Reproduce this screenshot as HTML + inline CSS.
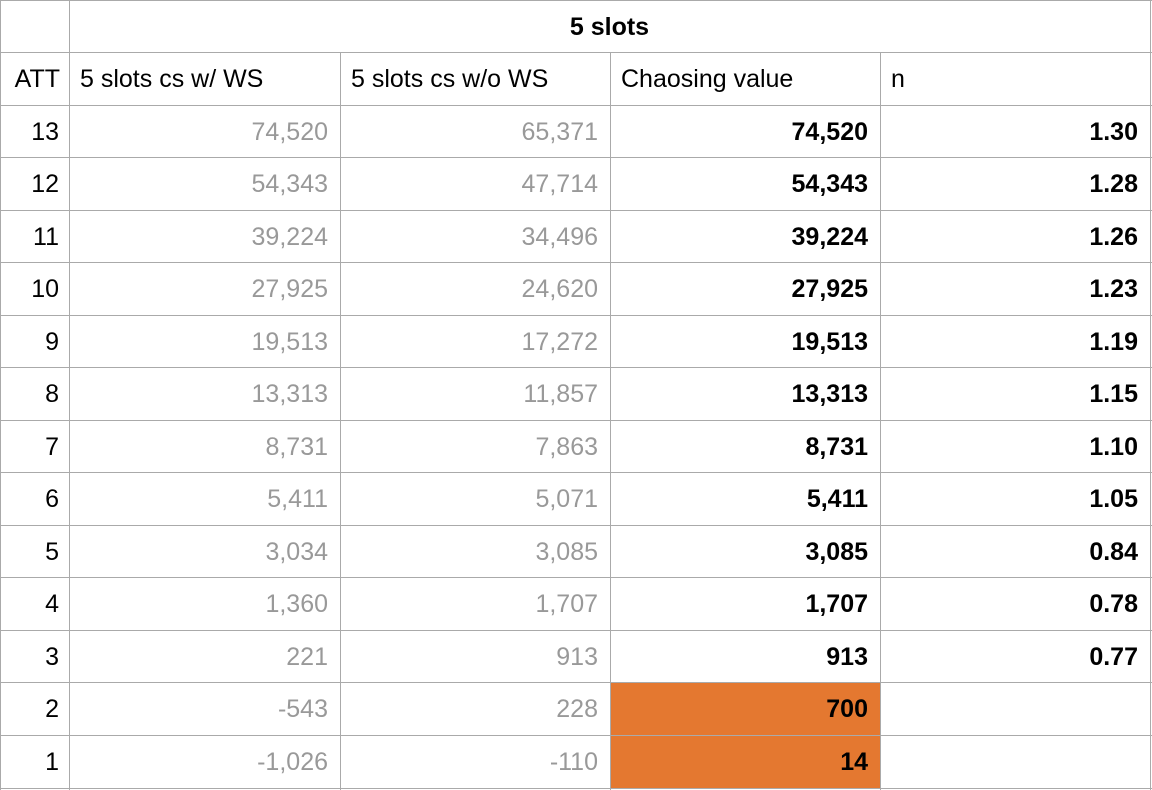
<!DOCTYPE html>
<html><head><meta charset="utf-8"><style>
body{margin:0;width:1152px;height:790px;overflow:hidden;background:#fff;font-family:"Liberation Sans",sans-serif;position:relative}
.c{position:absolute;height:52px;line-height:54px;font-size:25px;color:#000;box-sizing:border-box;white-space:nowrap}
.r{text-align:right;padding-right:12px}
.l{padding-left:11px}
.g{color:#999}
.b{font-weight:bold}
.o{background:#e47830}
.h{position:absolute;left:0;width:1152px;height:1px;background:#aaa}
.v{position:absolute;top:0;width:1px;height:790px;background:#aaa}
</style></head><body>
<div class="c o" style="left:610px;top:683px;width:270px;height:105px"></div>
<div class="c b" style="left:69px;top:0;width:1081px;text-align:center">5 slots</div>
<div class="c r" style="left:0;top:52px;width:69px;padding-right:9px">ATT</div>
<div class="c l" style="left:69px;top:52px;width:271px">5 slots cs w/ WS</div>
<div class="c l" style="left:340px;top:52px;width:270px">5 slots cs w/o WS</div>
<div class="c l" style="left:610px;top:52px;width:270px">Chaosing value</div>
<div class="c l" style="left:880px;top:52px;width:270px">n</div>

<div class="c r" style="left:0;top:105px;width:69px;padding-right:10px">13</div><div class="c r g" style="left:69px;top:105px;width:271px">74,520</div><div class="c r g" style="left:340px;top:105px;width:270px">65,371</div><div class="c r b" style="left:610px;top:105px;width:270px">74,520</div><div class="c r b" style="left:880px;top:105px;width:270px">1.30</div>
<div class="c r" style="left:0;top:157px;width:69px;padding-right:10px">12</div><div class="c r g" style="left:69px;top:157px;width:271px">54,343</div><div class="c r g" style="left:340px;top:157px;width:270px">47,714</div><div class="c r b" style="left:610px;top:157px;width:270px">54,343</div><div class="c r b" style="left:880px;top:157px;width:270px">1.28</div>
<div class="c r" style="left:0;top:210px;width:69px;padding-right:10px">11</div><div class="c r g" style="left:69px;top:210px;width:271px">39,224</div><div class="c r g" style="left:340px;top:210px;width:270px">34,496</div><div class="c r b" style="left:610px;top:210px;width:270px">39,224</div><div class="c r b" style="left:880px;top:210px;width:270px">1.26</div>
<div class="c r" style="left:0;top:262px;width:69px;padding-right:10px">10</div><div class="c r g" style="left:69px;top:262px;width:271px">27,925</div><div class="c r g" style="left:340px;top:262px;width:270px">24,620</div><div class="c r b" style="left:610px;top:262px;width:270px">27,925</div><div class="c r b" style="left:880px;top:262px;width:270px">1.23</div>
<div class="c r" style="left:0;top:315px;width:69px;padding-right:10px">9</div><div class="c r g" style="left:69px;top:315px;width:271px">19,513</div><div class="c r g" style="left:340px;top:315px;width:270px">17,272</div><div class="c r b" style="left:610px;top:315px;width:270px">19,513</div><div class="c r b" style="left:880px;top:315px;width:270px">1.19</div>
<div class="c r" style="left:0;top:367px;width:69px;padding-right:10px">8</div><div class="c r g" style="left:69px;top:367px;width:271px">13,313</div><div class="c r g" style="left:340px;top:367px;width:270px">11,857</div><div class="c r b" style="left:610px;top:367px;width:270px">13,313</div><div class="c r b" style="left:880px;top:367px;width:270px">1.15</div>
<div class="c r" style="left:0;top:420px;width:69px;padding-right:10px">7</div><div class="c r g" style="left:69px;top:420px;width:271px">8,731</div><div class="c r g" style="left:340px;top:420px;width:270px">7,863</div><div class="c r b" style="left:610px;top:420px;width:270px">8,731</div><div class="c r b" style="left:880px;top:420px;width:270px">1.10</div>
<div class="c r" style="left:0;top:472px;width:69px;padding-right:10px">6</div><div class="c r g" style="left:69px;top:472px;width:271px">5,411</div><div class="c r g" style="left:340px;top:472px;width:270px">5,071</div><div class="c r b" style="left:610px;top:472px;width:270px">5,411</div><div class="c r b" style="left:880px;top:472px;width:270px">1.05</div>
<div class="c r" style="left:0;top:525px;width:69px;padding-right:10px">5</div><div class="c r g" style="left:69px;top:525px;width:271px">3,034</div><div class="c r g" style="left:340px;top:525px;width:270px">3,085</div><div class="c r b" style="left:610px;top:525px;width:270px">3,085</div><div class="c r b" style="left:880px;top:525px;width:270px">0.84</div>
<div class="c r" style="left:0;top:577px;width:69px;padding-right:10px">4</div><div class="c r g" style="left:69px;top:577px;width:271px">1,360</div><div class="c r g" style="left:340px;top:577px;width:270px">1,707</div><div class="c r b" style="left:610px;top:577px;width:270px">1,707</div><div class="c r b" style="left:880px;top:577px;width:270px">0.78</div>
<div class="c r" style="left:0;top:630px;width:69px;padding-right:10px">3</div><div class="c r g" style="left:69px;top:630px;width:271px">221</div><div class="c r g" style="left:340px;top:630px;width:270px">913</div><div class="c r b" style="left:610px;top:630px;width:270px">913</div><div class="c r b" style="left:880px;top:630px;width:270px">0.77</div>
<div class="c r" style="left:0;top:682px;width:69px;padding-right:10px">2</div><div class="c r g" style="left:69px;top:682px;width:271px">-543</div><div class="c r g" style="left:340px;top:682px;width:270px">228</div><div class="c r b" style="left:610px;top:682px;width:270px">700</div>
<div class="c r" style="left:0;top:735px;width:69px;padding-right:10px">1</div><div class="c r g" style="left:69px;top:735px;width:271px">-1,026</div><div class="c r g" style="left:340px;top:735px;width:270px">-110</div><div class="c r b" style="left:610px;top:735px;width:270px">14</div>

<div class="h" style="top:0"></div>
<div class="h" style="top:52px"></div>
<div class="h" style="top:105px"></div>
<div class="h" style="top:157px"></div>
<div class="h" style="top:210px"></div>
<div class="h" style="top:262px"></div>
<div class="h" style="top:315px"></div>
<div class="h" style="top:367px"></div>
<div class="h" style="top:420px"></div>
<div class="h" style="top:472px"></div>
<div class="h" style="top:525px"></div>
<div class="h" style="top:577px"></div>
<div class="h" style="top:630px"></div>
<div class="h" style="top:682px"></div>
<div class="h" style="top:735px"></div>
<div class="h" style="top:788px"></div>
<div class="v" style="left:0"></div>
<div class="v" style="left:69px"></div>
<div class="v" style="left:340px;top:52px;height:738px"></div>
<div class="v" style="left:610px;top:52px;height:738px"></div>
<div class="v" style="left:880px;top:52px;height:738px"></div>
<div class="v" style="left:1150px"></div>
</body></html>
